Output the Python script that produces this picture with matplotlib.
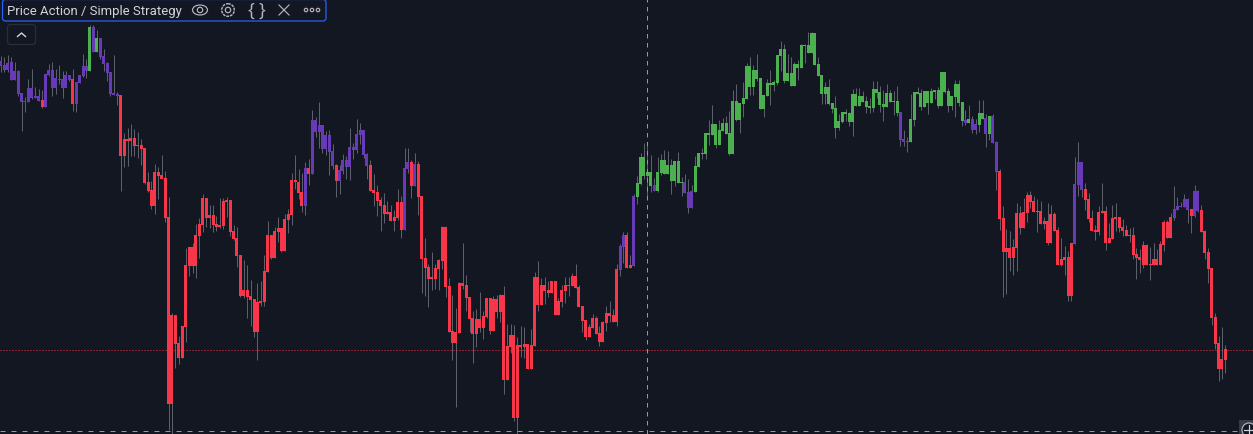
"""
Price Action / Simple Strategy candles on a dark chart
"""

import numpy as np
import matplotlib
matplotlib.use('Agg')
import matplotlib.pyplot as plt
from matplotlib.patches import FancyBboxPatch, Ellipse, Circle, Rectangle

bodyTop = [
    62, 66, 64, 63, 72, 72, 94, 102, 89, 89,
    97, 97, 101, 75, 71, 71, 79, 80, 80, 76,
    76, 80, 83, 76, 67, 67, 28, 28, 39, 39,
    57, 64, 73, 94, 95, 96, 140, 140, 139, 139,
    146, 146, 149, 183, 191, 173, 173, 176, 179, 218,
    316, 316, 344, 327, 266, 248, 248, 236, 225, 199,
    199, 216, 216, 225, 226, 202, 201, 201, 232, 239,
    256, 291, 291, 297, 300, 303, 302, 272, 236, 236,
    232, 229, 229, 220, 215, 181, 181, 183, 193, 169,
    169, 121, 121, 126, 126, 136, 136, 152, 166, 171,
    161, 161, 148, 148, 135, 131, 131, 155, 166, 191,
    193, 201, 206, 213, 213, 218, 203, 203, 169, 163,
    163, 165, 165, 197, 259, 268, 278, 269, 261, 228,
    228, 287, 332, 333, 284, 284, 286, 298, 319, 320,
    320, 317, 299, 299, 300, 300, 296, 296, 347, 336,
    336, 346, 346, 345, 345, 346, 278, 278, 286, 286,
    291, 282, 282, 302, 291, 286, 286, 277, 277, 288,
    307, 321, 328, 319, 319, 334, 323, 314, 314, 316,
    270, 247, 236, 236, 266, 197, 184, 158, 158, 173,
    173, 186, 173, 161, 161, 166, 166, 162, 162, 183,
    183, 193, 192, 167, 154, 154, 134, 134, 125, 125,
    131, 124, 124, 134, 102, 102, 104, 99, 67, 67,
    71, 71, 79, 96, 84, 84, 83, 56, 50, 50,
    74, 74, 65, 65, 46, 46, 46, 34, 34, 65,
    76, 88, 88, 104, 109, 122, 113, 113, 114, 95,
    95, 97, 97, 102, 107, 90, 90, 93, 105, 94,
    94, 102, 102, 113, 140, 142, 120, 93, 93, 94,
    92, 92, 92, 91, 91, 73, 73, 92, 97, 85,
    85, 103, 121, 120, 120, 125, 114, 114, 119, 117,
    117, 143, 172, 219, 249, 249, 248, 214, 214, 213,
    196, 196, 202, 212, 212, 222, 222, 215, 215, 231,
    260, 258, 258, 244, 185, 163, 163, 190, 200, 219,
    231, 213, 212, 212, 239, 219, 218, 218, 228, 231,
    236, 236, 255, 258, 246, 246, 265, 260, 260, 245,
    223, 223, 218, 210, 207, 207, 200, 200, 210, 192,
    192, 211, 232, 253, 269, 318, 344, 360, 350,
]
bodyBot = [
    67, 71, 71, 81, 81, 95, 103, 103, 103, 99,
    99, 102, 108, 108, 76, 89, 89, 81, 89, 89,
    81, 105, 105, 84, 77, 72, 72, 53, 53, 58,
    65, 74, 95, 96, 97, 157, 157, 142, 142, 147,
    147, 150, 184, 192, 207, 207, 177, 180, 219, 405,
    405, 345, 359, 359, 328, 267, 267, 267, 237, 226,
    219, 219, 226, 228, 228, 227, 203, 233, 240, 257,
    297, 297, 298, 301, 333, 333, 304, 303, 273, 259,
    259, 233, 252, 252, 221, 216, 183, 194, 207, 207,
    175, 175, 133, 133, 150, 150, 153, 167, 182, 182,
    172, 168, 168, 151, 151, 136, 156, 167, 192, 194,
    202, 207, 215, 215, 222, 222, 219, 231, 231, 170,
    187, 187, 198, 260, 269, 280, 280, 280, 270, 262,
    288, 333, 344, 344, 334, 287, 299, 320, 335, 335,
    329, 329, 318, 332, 332, 313, 313, 381, 381, 348,
    419, 419, 348, 348, 370, 370, 347, 306, 306, 292,
    294, 294, 316, 316, 303, 292, 287, 287, 289, 308,
    322, 338, 338, 329, 335, 343, 343, 324, 317, 323,
    323, 271, 248, 269, 269, 267, 198, 185, 177, 177,
    187, 192, 192, 174, 175, 175, 182, 182, 184, 184,
    194, 209, 209, 193, 168, 155, 155, 136, 136, 146,
    146, 132, 135, 155, 155, 121, 121, 105, 100, 88,
    88, 80, 110, 110, 97, 86, 86, 84, 57, 82,
    82, 87, 87, 69, 69, 47, 54, 54, 66, 77,
    95, 95, 105, 110, 129, 129, 123, 115, 123, 123,
    107, 107, 103, 108, 109, 109, 94, 106, 108, 108,
    103, 103, 114, 141, 143, 143, 143, 121, 95, 108,
    108, 104, 104, 93, 107, 107, 93, 107, 107, 98,
    104, 122, 124, 124, 131, 131, 126, 120, 135, 135,
    144, 173, 220, 253, 253, 259, 259, 249, 229, 229,
    214, 203, 213, 213, 225, 225, 244, 244, 232, 266,
    266, 261, 297, 297, 245, 186, 191, 201, 220, 232,
    233, 233, 214, 244, 244, 240, 220, 229, 232, 237,
    237, 256, 259, 261, 266, 266, 266, 266, 266, 266,
    246, 239, 239, 219, 211, 208, 208, 211, 217, 217,
    212, 233, 254, 270, 319, 345, 370, 370, 361,
]
wickHi = [
    57, 58, 56, 58, 63, 71, 94, 98, 80, 70,
    88, 90, 91, 75, 65, 63, 70, 66, 72, 72,
    76, 70, 83, 76, 55, 60, 26, 26, 31, 39,
    50, 63, 73, 56, 93, 96, 134, 129, 125, 130,
    133, 140, 149, 173, 182, 165, 168, 156, 172, 198,
    314, 316, 337, 327, 249, 248, 244, 225, 219, 195,
    199, 206, 206, 217, 199, 199, 198, 201, 226, 228,
    256, 261, 266, 281, 300, 284, 282, 256, 222, 236,
    228, 218, 229, 215, 210, 174, 156, 170, 174, 163,
    160, 111, 118, 103, 126, 132, 131, 145, 165, 166,
    155, 157, 129, 144, 120, 124, 131, 154, 161, 175,
    186, 198, 194, 202, 206, 211, 190, 197, 149, 149,
    161, 154, 162, 197, 239, 265, 253, 265, 260, 227,
    227, 279, 296, 309, 283, 244, 276, 298, 312, 310,
    293, 312, 299, 299, 297, 296, 295, 287, 325, 325,
    326, 338, 327, 328, 345, 330, 273, 262, 279, 278,
    282, 282, 282, 299, 286, 278, 278, 274, 265, 286,
    307, 321, 325, 315, 317, 327, 322, 307, 302, 310,
    265, 245, 233, 233, 256, 195, 177, 154, 144, 147,
    156, 179, 158, 155, 151, 152, 160, 162, 153, 178,
    175, 180, 186, 157, 154, 149, 134, 121, 106, 125,
    121, 119, 117, 112, 91, 85, 104, 83, 64, 58,
    66, 55, 79, 96, 80, 71, 81, 56, 42, 45,
    55, 58, 63, 61, 45, 45, 33, 33, 34, 58,
    76, 83, 80, 104, 97, 115, 113, 110, 113, 90,
    89, 89, 92, 97, 99, 82, 82, 87, 91, 85,
    91, 92, 87, 113, 131, 138, 95, 93, 88, 90,
    92, 92, 89, 91, 88, 73, 73, 89, 97, 81,
    81, 103, 111, 106, 117, 120, 101, 101, 115, 117,
    115, 142, 170, 207, 230, 232, 240, 204, 207, 199,
    193, 192, 197, 200, 202, 218, 204, 206, 213, 228,
    239, 247, 252, 244, 158, 143, 163, 184, 194, 211,
    226, 207, 184, 207, 224, 206, 204, 218, 220, 226,
    229, 228, 249, 250, 242, 245, 248, 244, 250, 242,
    221, 221, 214, 187, 198, 203, 195, 199, 210, 186,
    191, 206, 231, 249, 269, 314, 337, 328, 346,
]
wickLo = [
    73, 73, 73, 81, 81, 97, 132, 113, 103, 100,
    99, 102, 109, 108, 77, 97, 95, 85, 99, 79,
    82, 112, 113, 84, 78, 79, 72, 53, 53, 60,
    72, 82, 97, 96, 106, 192, 168, 167, 157, 157,
    159, 166, 185, 193, 210, 215, 200, 178, 223, 431,
    435, 369, 365, 359, 343, 277, 274, 279, 259, 233,
    228, 229, 233, 232, 229, 230, 218, 237, 241, 268,
    298, 299, 319, 327, 338, 361, 307, 307, 273, 260,
    259, 243, 253, 252, 234, 226, 190, 200, 213, 216,
    186, 175, 138, 149, 154, 156, 176, 170, 198, 195,
    175, 180, 181, 160, 154, 145, 159, 180, 192, 207,
    217, 232, 224, 215, 222, 232, 221, 239, 231, 174,
    199, 187, 216, 294, 297, 308, 291, 290, 291, 270,
    298, 333, 361, 408, 334, 290, 312, 333, 364, 348,
    333, 340, 319, 335, 332, 319, 323, 395, 381, 354,
    422, 435, 358, 359, 370, 370, 347, 312, 306, 305,
    298, 294, 316, 316, 308, 304, 297, 287, 289, 308,
    333, 341, 338, 329, 335, 347, 343, 332, 323, 323,
    327, 277, 264, 269, 269, 267, 205, 186, 180, 198,
    193, 192, 193, 176, 175, 175, 195, 187, 184, 197,
    194, 214, 209, 193, 168, 160, 160, 146, 136, 149,
    146, 132, 135, 156, 155, 122, 134, 118, 100, 96,
    96, 82, 110, 118, 97, 106, 92, 86, 72, 84,
    82, 87, 87, 81, 69, 64, 54, 54, 66, 77,
    105, 105, 106, 114, 139, 131, 124, 122, 127, 137,
    107, 107, 103, 114, 114, 113, 99, 113, 122, 108,
    103, 116, 117, 147, 147, 153, 143, 127, 95, 111,
    108, 115, 104, 100, 109, 107, 94, 113, 111, 118,
    107, 127, 126, 124, 134, 135, 133, 120, 148, 141,
    144, 191, 231, 298, 295, 272, 276, 272, 235, 229,
    223, 209, 213, 233, 225, 230, 246, 244, 232, 266,
    267, 276, 302, 302, 245, 197, 198, 211, 223, 232,
    241, 236, 214, 251, 244, 240, 232, 233, 237, 237,
    243, 260, 280, 274, 269, 266, 281, 266, 266, 266,
    252, 239, 239, 221, 211, 208, 208, 224, 234, 218,
    213, 233, 260, 284, 326, 350, 382, 380, 374,
]
# which colour the strategy gives each stretch of candles
stateRuns = [
    ('p', 12), ('r', 1), ('p', 8), ('r', 1), ('p', 4), ('g', 1), ('p', 1), ('g', 1),
    ('p', 6), ('r', 54), ('p', 1), ('r', 1), ('p', 7), ('r', 1), ('p', 9), ('r', 10),
    ('p', 2), ('r', 1), ('p', 1), ('r', 59), ('p', 2), ('r', 2), ('p', 1), ('g', 5),
    ('p', 1), ('g', 8), ('p', 3), ('g', 60), ('p', 3), ('g', 16), ('p', 1), ('g', 1),
    ('p', 2), ('g', 2), ('p', 1), ('g', 1), ('p', 2), ('r', 22), ('p', 3), ('r', 26),
    ('p', 5), ('r', 1), ('p', 2), ('r', 8),
]
lastLevel = 350.5
crossX = 189.0
crossY = 431.5
title = 'Price Action / Simple Strategy'

BG = '#131722'
COLORS = {'p': '#673ab7', 'r': '#f7364a', 'g': '#4caf50'}
PX = 0.72  # one pixel in points at dpi 100
STEP = 3.42

plt.rcParams['lines.scale_dashes'] = False
plt.rcParams['font.family'] = ['Roboto', 'DejaVu Sans']

top = np.array(bodyTop)
bot = np.array(bodyBot)
hi = np.array(wickHi)
lo = np.array(wickLo)
state = np.array([s for s, count in stateRuns for _ in range(count)])
xs = np.arange(len(top))

fig = plt.figure(figsize=(12.53, 4.35), dpi=100, facecolor=BG)
ax = fig.add_axes([0, 0, 1, 1], facecolor=BG)
ax.set_xlim(-1 / STEP, 1252 / STEP)
ax.set_ylim(435, 0)
ax.axis('off')

ax.vlines(xs, hi, lo, color='#5d606b', lw=PX, zorder=2)
for key, color in COLORS.items():
    m = state == key
    ax.bar(xs[m], bot[m] - top[m], bottom=top[m], width=3.0 / STEP, color=color,
           lw=0, zorder=3)

ax.axhline(lastLevel, color='#f23645', lw=PX, ls=(0, (PX, 2 * PX)), zorder=4)
ax.axvline(crossX, color='#9598a1', lw=PX, ls=(0, (4.5 * PX, 4.5 * PX)), zorder=5)
ax.axhline(crossY, color='#9598a1', lw=PX, ls=(0, (5 * PX, 6 * PX)), zorder=5)

# overlay widgets are placed in screen pixels, like the rest of the chart chrome
ui = fig.add_axes([0, 0, 1, 1], facecolor='none')
ui.set_xlim(0, 1253)
ui.set_ylim(435, 0)
ui.axis('off')

ui.add_patch(FancyBboxPatch((2.5, 0.5), 323.5, 21.5, boxstyle='round,pad=0,rounding_size=3',
                            fc=BG, ec='#2962ff', lw=PX * 1.2))
ui.text(7, 11.5, title, color='#d1d4dc', fontsize=9.45, va='center', ha='left')

iconColor = '#b2b5be'
iconLw = PX * 1.2
ui.add_patch(Ellipse((200, 11), 15, 10, fc='none', ec=iconColor, lw=iconLw))
ui.add_patch(Circle((200, 11), 2.7, fc='none', ec=iconColor, lw=iconLw))
ui.add_patch(Circle((228, 11), 6.3, fc='none', ec=iconColor, lw=iconLw * 1.2, ls=(0, (2, 0.7))))
ui.add_patch(Circle((228, 11), 2.7, fc='none', ec=iconColor, lw=iconLw))
ui.text(250.5, 10.5, '{', color=iconColor, fontsize=13, va='center', ha='center',
        family=['Open Sans'])
ui.text(261.5, 10.5, '}', color=iconColor, fontsize=13, va='center', ha='center',
        family=['Open Sans'])
ui.plot([279, 289], [6, 16], color=iconColor, lw=iconLw)
ui.plot([279, 289], [16, 6], color=iconColor, lw=iconLw)
for cx in [306, 312, 318]:
    ui.add_patch(Circle((cx, 11), 1.7, fc='none', ec=iconColor, lw=iconLw))

ui.add_patch(FancyBboxPatch((7.5, 25.5), 28, 20, boxstyle='round,pad=0,rounding_size=3',
                            fc=BG, ec='#2a2e39', lw=PX * 1.2))
ui.plot([17.5, 21.5, 25.5], [37.5, 34, 37.5], color='#d1d4dc', lw=PX * 1.4)

ui.add_patch(Rectangle((1239, 421), 14, 14, fc='#363a45', ec='none'))
ui.add_patch(Circle((1249, 431), 7, fc=BG, ec='#b2b5be', lw=PX * 1.2))
ui.plot([1249, 1249], [426, 435], color='#d1d4dc', lw=PX * 1.2)
ui.plot([1244, 1253], [431, 431], color='#d1d4dc', lw=PX * 1.2)

fig.savefig('out.png', dpi=100, facecolor=BG)
